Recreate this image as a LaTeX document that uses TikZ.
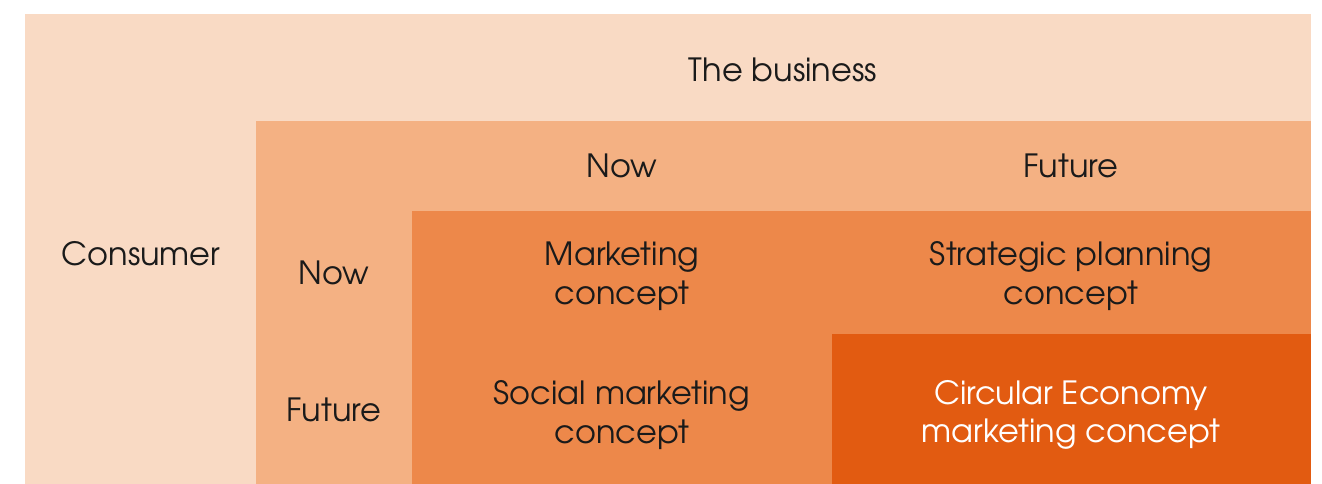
\documentclass[tikz,border=0pt]{standalone}
\usepackage{fontspec}
\setmainfont{TeX Gyre Adventor}
\definecolor{cA}{HTML}{F9DAC4}
\definecolor{cB}{HTML}{F4B183}
\definecolor{cC}{HTML}{ED884A}
\definecolor{cD}{HTML}{E25B11}
\definecolor{txt}{HTML}{1A1A1A}
\begin{document}
\begin{tikzpicture}[x=0.75pt,y=-0.75pt,
  lbl/.style={font=\fontsize{24}{29}\selectfont, text=txt, align=center, inner sep=0pt},
  wlbl/.style={lbl, text=white}]
\useasboundingbox (0,0) rectangle (1322,484);
\fill[cA] (24.5,14) rectangle (1311,484);
\fill[cB] (256,121) rectangle (1311,484);
\fill[cC] (412,211) rectangle (1311,484);
\fill[cD] (832,334) rectangle (1311,484);
\node[lbl] (biz) at (783,70) {The business};
\node[lbl] (cons) at (141,254) {Consumer};
\node[lbl] (bnow) at (622,166) {Now};
\node[lbl] (bfut) at (1071,166) {Future};
\node[lbl] (cnow) at (334,273) {Now};
\node[lbl] (cfut) at (334,410) {Future};
\node[lbl] (mc) at (622,276) {Marketing\\concept};
\node[lbl] (spc) at (1071,276) {Strategic planning\\concept};
\node[lbl] (smc) at (622,415) {Social marketing\\concept};
\node[wlbl] (cemc) at (1071,415) {Circular Economy\\marketing concept};
\end{tikzpicture}
\end{document}
